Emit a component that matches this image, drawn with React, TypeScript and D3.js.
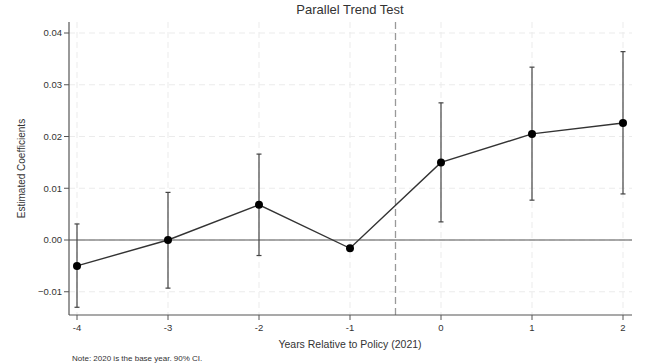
import React from "react";
import * as d3 from "d3";

const years = [-4, -3, -2, -1, 0, 1, 2];
const coef = [-0.005, 0.0, 0.0068, -0.0016, 0.015, 0.0205, 0.0226];
const ciLow = [-0.013, -0.0093, -0.003, null, 0.0035, 0.0077, 0.0089];
const ciHigh = [0.0031, 0.0092, 0.0166, null, 0.0265, 0.0334, 0.0364];
const yTicks = [-0.01, 0.0, 0.01, 0.02, 0.03, 0.04];
const xTicks = [-4, -3, -2, -1, 0, 1, 2];
const title = "Parallel Trend Test";
const xLabel = "Years Relative to Policy (2021)";
const yLabel = "Estimated Coefficients";
const note = "Note: 2020 is the base year. 90% CI.";

export default function App() {
  const W = 646, H = 364;
  const left = 69, right = 632, top = 22, bottom = 315;
  const x = d3.scaleLinear().domain([-4, 2]).range([77, 623]);
  const y = d3.scaleLinear().domain([0, 0.04]).range([240, 33]);
  const font = "'Liberation Sans', Arial, sans-serif";
  const line = d3.line<number>().x((_, i) => x(years[i])).y((d) => y(d));
  return (
    <svg width={W} height={H} style={{ position: "absolute", left: 0, top: 0, background: "#fff" }} fontFamily={font}>
      <rect x={0} y={0} width={W} height={H} fill="#fff" />
      {/* grid */}
      {yTicks.map((t) => (
        <line key={"gy" + t} x1={left} x2={right} y1={y(t)} y2={y(t)} stroke="#ebebeb" strokeWidth={1} strokeDasharray="6,4" />
      ))}
      {xTicks.map((t) => (
        <line key={"gx" + t} x1={x(t)} x2={x(t)} y1={top} y2={bottom} stroke="#ebebeb" strokeWidth={1} strokeDasharray="6,4" />
      ))}
      {/* zero line */}
      <line x1={left} x2={right} y1={y(0)} y2={y(0)} stroke="#555" strokeWidth={1.2} />
      {/* policy line */}
      <line x1={x(-0.5)} x2={x(-0.5)} y1={top} y2={bottom} stroke="#999" strokeWidth={1.3} strokeDasharray="7,4" />
      {/* axes */}
      <line x1={left} x2={left} y1={top} y2={bottom} stroke="#555" strokeWidth={1.2} />
      <line x1={left} x2={right} y1={bottom} y2={bottom} stroke="#555" strokeWidth={1.2} />
      {yTicks.map((t) => (
        <g key={"ty" + t}>
          <line x1={left - 5} x2={left} y1={y(t)} y2={y(t)} stroke="#555" />
          <text x={left - 7} y={y(t)} dy="0.35em" textAnchor="end" fontSize={9.5} fill="#333">
            {d3.format(".2f")(t)}
          </text>
        </g>
      ))}
      {xTicks.map((t) => (
        <g key={"tx" + t}>
          <line x1={x(t)} x2={x(t)} y1={bottom} y2={bottom + 5} stroke="#555" />
          <text x={x(t)} y={bottom + 16} textAnchor="middle" fontSize={9.5} fill="#333">
            {t}
          </text>
        </g>
      ))}
      {/* CIs */}
      {years.map((yr, i) =>
        ciLow[i] == null ? null : (
          <g key={"ci" + yr} stroke="#444" strokeWidth={1.2}>
            <line x1={x(yr)} x2={x(yr)} y1={y(ciLow[i] as number)} y2={y(ciHigh[i] as number)} />
            <line x1={x(yr) - 2.5} x2={x(yr) + 2.5} y1={y(ciLow[i] as number)} y2={y(ciLow[i] as number)} />
            <line x1={x(yr) - 2.5} x2={x(yr) + 2.5} y1={y(ciHigh[i] as number)} y2={y(ciHigh[i] as number)} />
          </g>
        )
      )}
      <path d={line(coef) || ""} fill="none" stroke="#333" strokeWidth={1.4} />
      {coef.map((c, i) => (
        <circle key={"p" + i} cx={x(years[i])} cy={y(c)} r={4} fill="#000" />
      ))}
      <text x={350} y={14} textAnchor="middle" fontSize={13} fill="#333">{title}</text>
      <text x={350} y={348} textAnchor="middle" fontSize={10.5} fill="#333">{xLabel}</text>
      <text transform={`translate(25,${(top + bottom) / 2}) rotate(-90)`} textAnchor="middle" fontSize={10} fill="#333">{yLabel}</text>
      <text x={72} y={361} fontSize={8} fill="#333">{note}</text>
    </svg>
  );
}
